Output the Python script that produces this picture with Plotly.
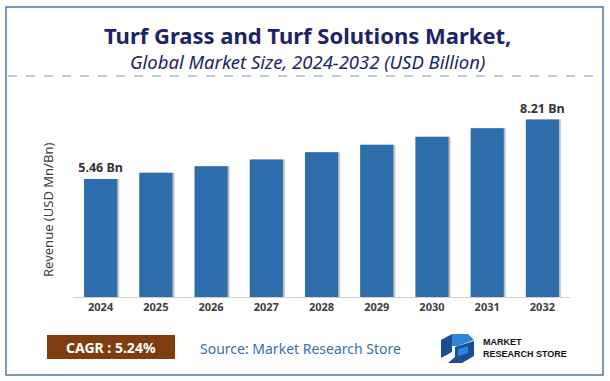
import plotly.graph_objects as go

years = ["2024", "2025", "2026", "2027", "2028", "2029", "2030", "2031", "2032"]
values = [5.46, 5.75, 6.05, 6.36, 6.70, 7.05, 7.42, 7.81, 8.21]
labels = ["5.46 Bn", "", "", "", "", "", "", "", "8.21 Bn"]
title_main = "Turf Grass and Turf Solutions Market,"
title_sub = "Global Market Size, 2024-2032 (USD Billion)"
y_title = "Revenue (USD Mn/Bn)"
cagr_text = "CAGR : 5.24%"
source_text = "Source: Market Research Store"

W, H = 610, 381
L, R, T, B = 73, 40, 90, 84
PW, PH = W - L - R, H - T - B
FONT = "Noto Sans"


def px(x):
    return (x - L) / PW


def py(y):
    return (H - B - y) / PH


fig = go.Figure()
# soft shadow behind bars
fig.add_trace(go.Bar(x=years, y=values, width=0.6, offset=-0.26,
                     marker=dict(color="rgba(60,60,60,0.22)", line=dict(width=0)),
                     hoverinfo="skip", showlegend=False))
fig.add_trace(go.Bar(x=years, y=values, width=0.6, offset=-0.28,
                     marker=dict(color="rgba(60,60,60,0.18)", line=dict(width=0)),
                     hoverinfo="skip", showlegend=False))
fig.add_trace(go.Bar(x=years, y=values, width=0.6, offset=-0.3,
                     marker=dict(color="#2E6DAB", line=dict(width=0)),
                     text=labels, textposition="outside", cliponaxis=False, constraintext="none",
                     textfont=dict(family=FONT, size=12.5, color="#333333", weight="bold"),
                     showlegend=False))

shapes = [
    dict(type="rect", xref="paper", yref="paper", x0=px(6), x1=px(603), y0=py(375), y1=py(7),
         line=dict(color="#4F74A8", width=1.5), fillcolor="rgba(0,0,0,0)", layer="below"),
    dict(type="line", xref="paper", yref="paper", x0=px(8), x1=px(602), y0=py(76), y1=py(76),
         line=dict(color="#7A99D4", width=1.2, dash="dash")),
    dict(type="rect", xref="paper", yref="paper", x0=px(47), x1=px(175), y0=py(359), y1=py(335),
         line=dict(width=0), fillcolor="#7F3C0E"),
]


def path(pts):
    return "M " + " L ".join(f"{px(a)},{py(b)}" for a, b in pts) + " Z"


logo_dark = "#1A4F95"
logo_light = "#2F86D8"
shapes += [
    dict(type="path", xref="paper", yref="paper", path=path([(441, 340), (452, 334), (452, 352), (441, 358)]),
         fillcolor=logo_dark, line=dict(width=0)),
    dict(type="path", xref="paper", yref="paper", path=path([(452, 334), (468, 334), (474, 340), (458, 346), (452, 346)]),
         fillcolor=logo_light, line=dict(width=0)),
    dict(type="path", xref="paper", yref="paper", path=path([(455, 347), (474, 341), (474, 356), (462, 363), (448, 363), (455, 357)]),
         fillcolor=logo_dark, line=dict(width=0)),
    dict(type="path", xref="paper", yref="paper", path=path([(458, 349), (468, 346), (468, 353), (458, 356)]),
         fillcolor=logo_light, line=dict(width=0)),
]

annotations = [
    dict(text=f"<b>{title_main}</b>", x=px(307), y=py(35), xref="paper", yref="paper",
         showarrow=False, font=dict(family=FONT, size=22, color="#1C2467"), xanchor="center", yanchor="middle"),
    dict(text=f"<i>{title_sub}</i>", x=px(307), y=py(61), xref="paper", yref="paper",
         showarrow=False, font=dict(family=FONT, size=18.5, color="#1C2467"), xanchor="center", yanchor="middle"),
    dict(text=f"<b>{cagr_text}</b>", x=px(111), y=py(347.5), xref="paper", yref="paper",
         showarrow=False, font=dict(family=FONT, size=14, color="#FFFFFF"), xanchor="center", yanchor="middle"),
    dict(text=source_text, x=px(300), y=py(348), xref="paper", yref="paper",
         showarrow=False, font=dict(family=FONT, size=14, color="#3A6EA8"), xanchor="center", yanchor="middle"),
    dict(text="<b>MARKET<br>RESEARCH STORE</b>", x=px(481), y=py(348), xref="paper", yref="paper",
         showarrow=False, align="left", font=dict(family="Liberation Sans Narrow, Liberation Sans", size=9, color="#111111"),
         xanchor="left", yanchor="middle"),
    dict(text=y_title, x=px(48), y=py(210), xref="paper", yref="paper", textangle=-90,
         showarrow=False, font=dict(family=FONT, size=13, color="#404040"), xanchor="center", yanchor="middle"),
]

fig.update_layout(
    width=W, height=H,
    margin=dict(l=L, r=R, t=T, b=B),
    paper_bgcolor="white", plot_bgcolor="white",
    barmode="overlay",
    shapes=shapes,
    annotations=annotations,
    xaxis=dict(showgrid=False, showline=True, linecolor="#D0D0D0", linewidth=1, ticks="",
               tickfont=dict(family=FONT, size=11, color="#404040", weight="bold")),
    yaxis=dict(range=[0, 9.58], showgrid=False, showticklabels=False, zeroline=False, showline=False),
    font=dict(family=FONT),
)

fig.write_html("out.html", config={"displayModeBar": False},
               post_script="document.body.style.margin='0';document.body.style.padding='0';")
